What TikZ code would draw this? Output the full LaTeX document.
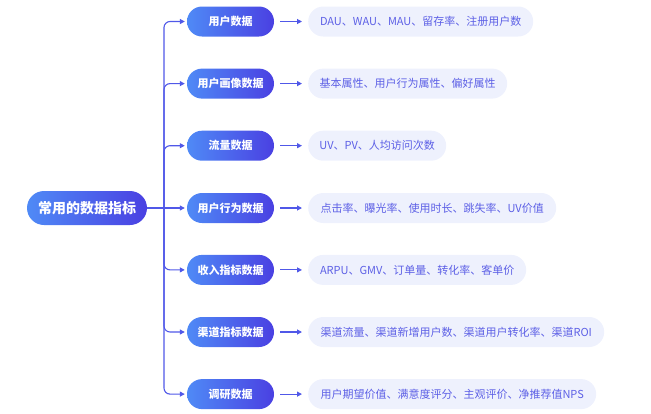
\documentclass[tikz,border=0pt]{standalone}
\usepackage{fontspec}
\setmainfont{Noto Sans CJK SC}
\usetikzlibrary{arrows.meta,positioning}
\definecolor{gl}{HTML}{4F8AF6}
\definecolor{gr}{HTML}{4A40E2}
\definecolor{ln}{HTML}{5058E8}
\definecolor{dfill}{HTML}{EEF1FD}
\definecolor{dtext}{HTML}{5D60E6}
\tikzset{
  x=1pt,y=-1pt,
  rootbox/.style={rounded corners=17pt,left color=gl,right color=gr,draw=none,
    minimum width=120pt,minimum height=34pt,inner sep=0pt,text=white,
    font=\fontsize{14}{16}\selectfont\bfseries},
  catbox/.style={rounded corners=15pt,left color=gl,right color=gr,draw=none,
    minimum width=87pt,minimum height=30pt,inner sep=0pt,text=white,
    font=\fontsize{11}{13}\selectfont\bfseries},
  detbox/.style={rounded corners=15pt,fill=dfill,draw=none,anchor=west,
    minimum height=30pt,inner sep=0pt,text=dtext,
    font=\fontsize{11}{13}\selectfont},
  conn/.style={draw=ln,line width=1.1pt,-{Triangle[length=5pt,width=5pt]}},
}
\begin{document}
\begin{tikzpicture}
\useasboundingbox (0,0) rectangle (651,413);
\node[rootbox] (root) at (87,208) {常用的数据指标};
\coordinate (j) at (164,208);
\node[catbox] (c1) at (230.5,21.5) {用户数据};
\node[catbox] (c2) at (230.5,83.6) {用户画像数据};
\node[catbox] (c3) at (230.5,145.7) {流量数据};
\node[catbox] (c4) at (230.5,208) {用户行为数据};
\node[catbox] (c5) at (230.5,269.9) {收入指标数据};
\node[catbox] (c6) at (230.5,332) {渠道指标数据};
\node[catbox] (c7) at (230.5,394.1) {调研数据};
\node[detbox,minimum width=225pt] (d1) at (308,21.5) {DAU、WAU、MAU、留存率、注册用户数};
\node[detbox,minimum width=199pt] (d2) at (308,83.6) {基本属性、用户行为属性、偏好属性};
\node[detbox,minimum width=138pt] (d3) at (308,145.7) {UV、PV、人均访问次数};
\node[detbox,minimum width=248pt] (d4) at (308,208) {点击率、曝光率、使用时长、跳失率、UV价值};
\node[detbox,minimum width=218pt] (d5) at (308,269.9) {ARPU、GMV、订单量、转化率、客单价};
\node[detbox,minimum width=296pt] (d6) at (308,332) {渠道流量、渠道新增用户数、渠道用户转化率、渠道ROI};
\node[detbox,minimum width=288pt] (d7) at (308,394.1) {用户期望价值、满意度评分、主观评价、净推荐值NPS};
\draw[conn,shorten >=2pt] (root.east) -- (c4.west);
\foreach \i in {1,2,3,5,6,7}{
  \draw[conn,rounded corners=6pt,shorten >=2pt] (j) |- (c\i.west);
}
\foreach \i in {1,...,7}{
  \draw[conn,shorten <=6pt,shorten >=6pt] (c\i.east) -- (d\i.west);
}
\end{tikzpicture}
\end{document}
